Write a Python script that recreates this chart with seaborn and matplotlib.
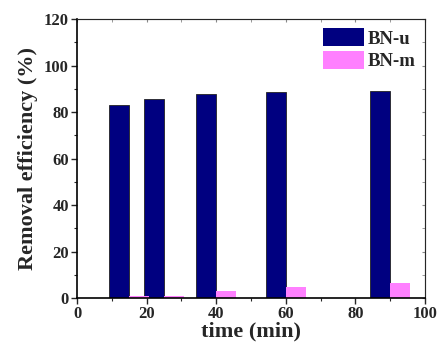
import matplotlib
matplotlib.use("Agg")
import matplotlib.pyplot as plt
import seaborn as sns
import pandas as pd
from matplotlib.ticker import MultipleLocator

times = [15, 25, 40, 60, 90]
bn_u = [83.0, 85.5, 87.7, 88.8, 89.2]
bn_m = [0.7, 0.7, 2.9, 4.9, 6.6]
series = ["BN-u", "BN-m"]
colors = ["#000080", "#FF80FF"]

df = pd.DataFrame({
    "time": times * 2,
    "eff": bn_u + bn_m,
    "series": [series[0]] * len(times) + [series[1]] * len(times),
})

sns.set_style("ticks")
plt.rcParams["font.family"] = ["Liberation Serif", "DejaVu Serif"]
plt.rcParams["font.weight"] = "bold"

fig = plt.figure(figsize=(4.38, 3.47), dpi=100)
ax = fig.add_axes([0.176, 0.141, 0.794, 0.804])

sns.barplot(data=df, x="time", y="eff", hue="series", native_scale=True,
            palette=colors, width=1.16, ax=ax, errorbar=None,
            edgecolor="none", linewidth=0, saturation=1)
for p in ax.patches[:len(times)]:
    p.set_edgecolor("#222222")
    p.set_linewidth(0.6)

ax.set_xlim(0, 100)
ax.set_ylim(0, 120)
ax.xaxis.set_major_locator(MultipleLocator(20))
ax.xaxis.set_minor_locator(MultipleLocator(10))
ax.yaxis.set_major_locator(MultipleLocator(20))
ax.yaxis.set_minor_locator(MultipleLocator(10))
ax.tick_params(axis="both", which="major", direction="out", length=4, width=1,
               labelsize=12, pad=2)
ax.tick_params(axis="both", which="minor", direction="out", length=2, width=0.8)
for lab in ax.get_xticklabels() + ax.get_yticklabels():
    lab.set_fontweight("bold")

# secondary ticks on top/right
axt = ax.secondary_xaxis("top")
axt.xaxis.set_major_locator(MultipleLocator(20))
axt.xaxis.set_minor_locator(MultipleLocator(10))
axt.tick_params(which="both", direction="in", length=2, color="#888888", labeltop=False)
axt.spines["top"].set_color("#888888")
axr = ax.secondary_yaxis("right")
axr.yaxis.set_major_locator(MultipleLocator(20))
axr.yaxis.set_minor_locator(MultipleLocator(10))
axr.tick_params(which="both", direction="in", length=2, color="#888888", labelright=False)
axr.spines["right"].set_color("#888888")
axt.set_xticklabels([])
axr.set_yticklabels([])

for s in ["left", "bottom"]:
    ax.spines[s].set_linewidth(1.2)
    ax.spines[s].set_color("black")

ax.set_xlabel("time (min)", fontsize=16, fontweight="bold", labelpad=-1)
ax.set_ylabel("Removal efficiency (%)", fontsize=16, fontweight="bold", labelpad=4)

leg = ax.legend(loc="upper right", frameon=False, fontsize=13.5,
                handlelength=2.2, handleheight=1.05, handletextpad=0.2,
                labelspacing=0.2, borderaxespad=0.1)
for t in leg.get_texts():
    t.set_fontweight("bold")

fig.savefig("out.png", dpi=100)
